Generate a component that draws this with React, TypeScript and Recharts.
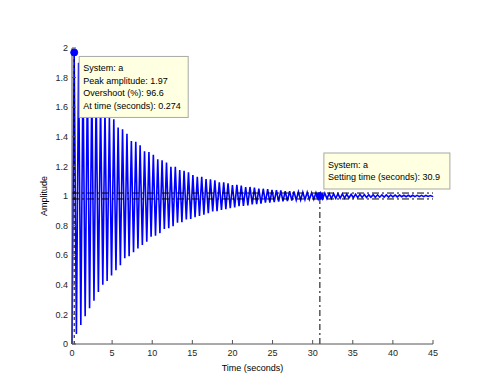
import { LineChart, Line, XAxis, YAxis, ReferenceLine, ReferenceDot } from 'recharts'

const time = [
  0, 0.27, 0.55, 0.82, 1.10, 1.37, 1.64, 1.92, 2.19, 2.47,
  2.74, 3.01, 3.29, 3.56, 3.84, 4.11, 4.38, 4.66, 4.93, 5.21,
  5.48, 5.75, 6.03, 6.30, 6.58, 6.85, 7.12, 7.40, 7.67, 7.95,
  8.22, 8.49, 8.77, 9.04, 9.32, 9.59, 9.86, 10.14, 10.41, 10.69,
  10.96, 11.23, 11.51, 11.78, 12.06, 12.33, 12.60, 12.88, 13.15, 13.43,
  13.70, 13.97, 14.25, 14.52, 14.80, 15.07, 15.34, 15.62, 15.89, 16.17,
  16.44, 16.71, 16.99, 17.26, 17.54, 17.81, 18.08, 18.36, 18.63, 18.91,
  19.18, 19.45, 19.73, 20.00, 20.28, 20.55, 20.82, 21.10, 21.37, 21.65,
  21.92, 22.19, 22.47, 22.74, 23.02, 23.29, 23.56, 23.84, 24.11, 24.39,
  24.66, 24.93, 25.21, 25.48, 25.76, 26.03, 26.30, 26.58, 26.85, 27.13,
  27.40, 27.67, 27.95, 28.22, 28.50, 28.77, 29.04, 29.32, 29.59, 29.87,
  30.14, 30.41, 30.69, 30.96, 31.24, 31.51, 31.78, 32.06, 32.33, 32.61,
  32.88, 33.15, 33.43, 33.70, 33.98, 34.25, 34.52, 34.80, 35.07, 35.35,
  35.62, 35.89, 36.17, 36.44, 36.72, 36.99, 37.26, 37.54, 37.81, 38.09,
  38.36, 38.63, 38.91, 39.18, 39.46, 39.73, 40.00, 40.28, 40.55, 40.83,
  41.10, 41.37, 41.65, 41.92, 42.20, 42.47, 42.74, 43.02, 43.29, 43.57,
  43.84, 44.11, 44.39, 44.66, 44.94, 45.00,
]

const amplitude = [
  0, 1.966, 0.067, 1.901, 0.129, 1.841, 0.187, 1.785, 0.242, 1.733,
  0.292, 1.684, 0.352, 1.638, 0.400, 1.595, 0.425, 1.530, 0.463, 1.518,
  0.499, 1.462, 0.533, 1.451, 0.580, 1.421, 0.593, 1.372, 0.620, 1.367,
  0.646, 1.342, 0.669, 1.302, 0.691, 1.298, 0.725, 1.278, 0.731, 1.248,
  0.749, 1.242, 0.778, 1.226, 0.782, 1.198, 0.796, 1.197, 0.820, 1.175,
  0.823, 1.171, 0.842, 1.160, 0.845, 1.141, 0.856, 1.130, 0.865, 1.130,
  0.874, 1.115, 0.883, 1.113, 0.896, 1.106, 0.898, 1.092, 0.905, 1.092,
  0.911, 1.086, 0.917, 1.074, 0.923, 1.075, 0.932, 1.070, 0.933, 1.061,
  0.937, 1.061, 0.944, 1.057, 0.945, 1.050, 0.949, 1.049, 0.955, 1.046,
  0.956, 1.041, 0.958, 1.040, 0.963, 1.037, 0.964, 1.033, 0.966, 1.033,
  0.969, 1.030, 0.972, 1.028, 0.973, 1.026, 0.975, 1.025, 0.977, 1.022,
  0.978, 1.022, 0.979, 1.020, 0.981, 1.019, 0.982, 1.017, 0.983, 1.016,
  0.984, 1.015, 0.985, 1.014, 0.986, 1.013, 0.987, 1.012, 0.988, 1.012,
  0.989, 1.011, 0.990, 1.010, 0.990, 1.009, 0.991, 1.009, 0.992, 1.008,
  0.992, 1.008, 0.993, 1.007, 0.993, 1.007, 0.994, 1.006, 0.994, 1.006,
  0.995, 1.005, 0.995, 1.005, 0.995, 1.005, 0.996, 1.004, 0.996, 1.004,
  0.996, 1.004, 0.997, 1.003, 0.997, 1.000,
]

const xTicks = [0, 5, 10, 15, 20, 25, 30, 35, 40, 45]
const yTicks = [0, 0.2, 0.4, 0.6, 0.8, 1, 1.2, 1.4, 1.6, 1.8, 2]

const peakTime = 0.274
const peakAmp = 1.97
const overshoot = 96.6
const settleTime = 30.9
const finalValue = 1
const settleBand = [0.98, 1.02]

const data = time.map((t, i) => ({ t, y: amplitude[i] }))

const FONT = '"Liberation Sans", Arial, Helvetica, sans-serif'
const AXIS = '#555'
const TEXT = '#262626'

function TipBox(props: any) {
  const { viewBox, dx, dy, w, h, lines, step } = props
  const cx = viewBox.x + viewBox.width / 2
  const cy = viewBox.y + viewBox.height / 2
  const x = cx + dx
  const y = cy + dy
  return (
    <g>
      <rect x={x} y={y} width={w} height={h} fill="#ffffe1" stroke="#a8a8a8" />
      {lines.map((l: string, i: number) => (
        <text key={i} x={x + 4} y={y + 15 + i * step} fontSize={9} fontFamily={FONT} fill="#000">
          {l}
        </text>
      ))}
    </g>
  )
}

export default function App() {
  return (
    <div style={{ position: 'absolute', left: 0, top: 0, width: 478, height: 386, background: '#fff' }}>
      <LineChart width={478} height={386} data={data} margin={{ top: 48, right: 45, bottom: 0, left: 0 }}>
        <XAxis
          dataKey="t"
          type="number"
          domain={[0, 45]}
          ticks={xTicks}
          height={42}
          tickSize={-4}
          tickMargin={10}
          stroke={AXIS}
          tick={{ fontSize: 9, fill: TEXT, fontFamily: FONT }}
          label={{ value: 'Time (seconds)', position: 'insideBottom', offset: 15, fontSize: 9, fill: '#000', fontFamily: FONT }}
        />
        <XAxis
          xAxisId="top"
          orientation="top"
          dataKey="t"
          type="number"
          domain={[0, 45]}
          ticks={xTicks}
          height={0}
          tickSize={-4}
          tick={false}
          stroke={AXIS}
          label={{ value: 'Step Response', position: 'top', offset: 8, fontSize: 9, fill: '#000', fontFamily: FONT }}
        />
        <YAxis
          type="number"
          domain={[0, 2]}
          ticks={yTicks}
          width={72}
          tickSize={-4}
          tickMargin={8}
          stroke={AXIS}
          tick={{ fontSize: 9, fill: TEXT, fontFamily: FONT }}
          label={{ value: 'Amplitude', angle: -90, position: 'insideLeft', offset: 44, style: { textAnchor: 'middle' }, fontSize: 9, fill: '#000', fontFamily: FONT }}
        />
        <YAxis
          yAxisId="right"
          orientation="right"
          type="number"
          domain={[0, 2]}
          ticks={yTicks}
          width={0}
          tickSize={-4}
          tick={false}
          stroke={AXIS}
        />
        <Line
          type="linear"
          dataKey="y"
          stroke="#0000ff"
          strokeWidth={1.6}
          dot={false}
          isAnimationActive={false}
        />
        {settleBand.map((v) => (
          <ReferenceLine key={v} y={v} stroke="#000" strokeDasharray="7 3 2 3" />
        ))}
        <ReferenceLine
          segment={[{ x: peakTime, y: 0 }, { x: peakTime, y: peakAmp }]}
          stroke="#000"
          strokeDasharray="3 3"
        />
        <ReferenceLine
          segment={[{ x: settleTime, y: 0 }, { x: settleTime, y: finalValue }]}
          stroke="#000"
          strokeDasharray="6 3 2 3"
        />
        <ReferenceDot
          x={peakTime}
          y={peakAmp}
          r={3.5}
          fill="#0000ff"
          stroke="#0000ff"
          label={{
            content: (p: any) => (
              <TipBox
                viewBox={p.viewBox}
                dx={5}
                dy={4}
                w={109}
                h={61}
                step={12.5}
                lines={['System: a', `Peak amplitude: ${peakAmp}`, `Overshoot (%): ${overshoot}`, `At time (seconds): ${peakTime}`]}
              />
            ),
          }}
        />
        <ReferenceDot
          x={settleTime}
          y={finalValue}
          r={3.5}
          fill="#0000ff"
          stroke="#0000ff"
          label={{
            content: (p: any) => (
              <TipBox
                viewBox={p.viewBox}
                dx={4}
                dy={-43}
                w={126}
                h={36}
                step={12}
                lines={['System: a', `Setting time (seconds): ${settleTime}`]}
              />
            ),
          }}
        />
      </LineChart>
    </div>
  )
}
